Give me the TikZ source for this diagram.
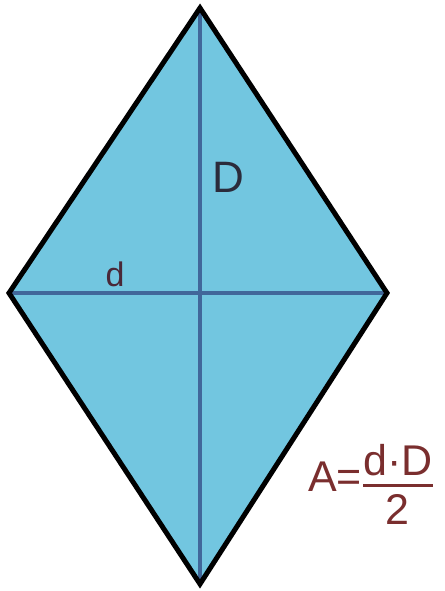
\documentclass[tikz,border=0pt]{standalone}
\usepackage{amsmath}
\usepackage{fontspec}
\setmainfont{Liberation Sans}
\usetikzlibrary{positioning}
\definecolor{rhfill}{HTML}{72C6E0}
\definecolor{diagblue}{HTML}{41679A}
\definecolor{lblnavy}{HTML}{2B2B3B}
\definecolor{lblplum}{HTML}{4A2838}
\definecolor{formred}{HTML}{7A2E2E}
\begin{document}
\begin{tikzpicture}[
  x=1pt, y=-1pt,
  rim/.style={draw=black, line width=5pt, line join=miter},
  diag/.style={draw=diagblue, line width=3.5pt},
  lbl/.style={inner sep=0pt, anchor=center},
  form/.style={inner sep=0pt, text=formred, font=\fontsize{43}{48}\selectfont}
]
\useasboundingbox (0,0) rectangle (444,591);
\coordinate (top) at (200,8);
\coordinate (rgt) at (387,293);
\coordinate (bot) at (200,584);
\coordinate (lft) at (9,293);
\fill[rhfill] (top) -- (rgt) -- (bot) -- (lft) -- cycle;
\foreach \a/\b in {top/bot, lft/rgt}
  \draw[diag] (\a) -- (\b);
\draw[rim] (top) -- (rgt) -- (bot) -- (lft) -- cycle;
\node[lbl, text=lblnavy, font=\fontsize{44}{50}\selectfont] (bigD) at (228,177) {D};
\node[lbl, text=lblplum, font=\fontsize{34}{38}\selectfont] (smalld) at (115,274) {d};
\node[form] (area) at (371,484) {A=$\genfrac{}{}{2.4pt}{0}{\text{d·D}}{\text{2}}$};
\end{tikzpicture}
\end{document}
